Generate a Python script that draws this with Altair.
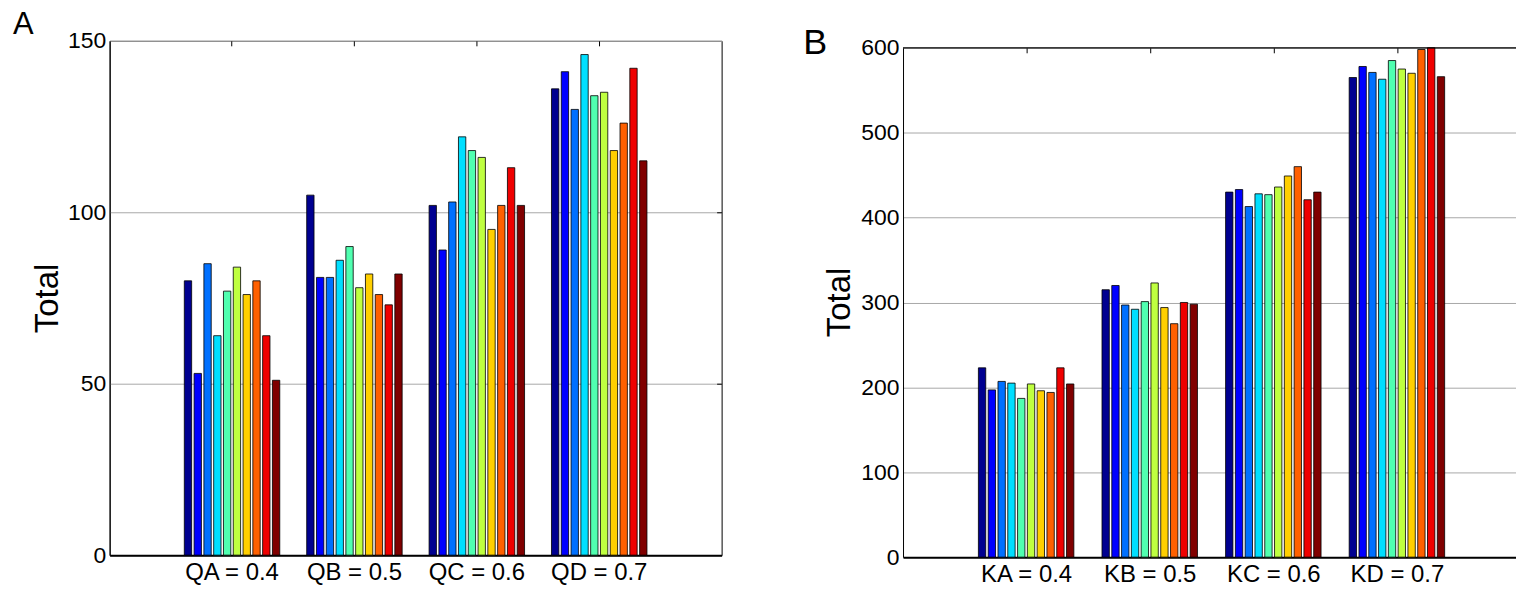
import altair as alt
import pandas as pd

# ---- data -----------------------------------------------------------------
groups_a = ["QA = 0.4", "QB = 0.5", "QC = 0.6", "QD = 0.7"]
groups_b = ["KA = 0.4", "KB = 0.5", "KC = 0.6", "KD = 0.7"]
series = ["s1", "s2", "s3", "s4", "s5", "s6", "s7", "s8", "s9", "s10"]
jet_colors = ["#000090", "#0000ff", "#0070ff", "#00dfff", "#50ffb0",
              "#bfff40", "#ffcf00", "#ff6000", "#ef0000", "#800000"]

qa = [80, 53, 85, 64, 77, 84, 76, 80, 64, 51]
qb = [105, 81, 81, 86, 90, 78, 82, 76, 73, 82]
qc = [102, 89, 103, 122, 118, 116, 95, 102, 113, 102]
qd = [136, 141, 130, 146, 134, 135, 118, 126, 142, 115]

ka = [223, 197, 207, 205, 187, 204, 196, 194, 223, 204]
kb = [315, 320, 297, 292, 301, 323, 294, 275, 300, 298]
kc = [430, 433, 413, 428, 427, 436, 449, 460, 421, 430]
kd = [565, 578, 571, 563, 585, 575, 570, 598, 600, 566]

y_ticks_a = [0, 50, 100, 150]
y_ticks_b = [0, 100, 200, 300, 400, 500, 600]


def long_table(groups, rows):
    recs = []
    for g, vals in zip(groups, rows):
        for s, v in zip(series, vals):
            recs.append({"group": g, "series": s, "total": v})
    return pd.DataFrame(recs)


df_a = long_table(groups_a, [qa, qb, qc, qd])
df_b = long_table(groups_b, [ka, kb, kc, kd])

NARROW = "Liberation Sans Narrow, Arial Narrow, Liberation Sans, sans-serif"
SANS = "Liberation Sans, Arial, sans-serif"
GRID = "#a8a8a8"
TICK_LABEL_SIZE = 23
CAT_LABEL_SIZE = 24

color = alt.Color("series:N", scale=alt.Scale(domain=series, range=jet_colors), legend=None)
# each group occupies 0.8 of a category step, split into 10 slots
x_offset = alt.XOffset("series:N", sort=series,
                       scale=alt.Scale(domain=series, paddingInner=0.25, paddingOuter=0.125))


def y_axis(values, title_x, title_y):
    return alt.Axis(values=values, grid=True, gridColor=GRID, ticks=False,
                    domainColor="black", domainWidth=1,
                    labelFont=NARROW, labelFontSize=TICK_LABEL_SIZE, labelColor="black",
                    labelPadding=4,
                    title="Total", titleFont=SANS, titleFontSize=33,
                    titleFontWeight="normal", titleColor="black",
                    titleAngle=270, titleAlign="center", titleBaseline="alphabetic",
                    titleX=title_x, titleY=title_y)


def x_axis():
    return alt.Axis(title=None, orient="bottom", ticks=False, grid=False,
                    domainColor="black", domainWidth=2, labelAngle=0,
                    labelFont=NARROW, labelFontSize=CAT_LABEL_SIZE, labelColor="black",
                    labelPadding=5)


def top_ticks(groups, offset):
    # short inward tick marks along the top edge at the group centres
    return alt.Chart(pd.DataFrame({"group": groups})).mark_rule(strokeOpacity=0).encode(
        x=alt.X("group:N", sort=groups,
                axis=alt.Axis(orient="top", offset=offset, tickSize=5, ticks=True,
                              tickColor="black", labels=False, domain=False, grid=False,
                              title=None)))


# ---- panel A ----------------------------------------------------------------
W_A, H_A = 614, 516

bars_a = alt.Chart(df_a).mark_bar(stroke="black", strokeWidth=0.8).encode(
    x=alt.X("group:N", sort=groups_a,
            scale=alt.Scale(domain=groups_a, paddingInner=0.2, paddingOuter=0.6),
            axis=x_axis()),
    xOffset=x_offset,
    y=alt.Y("total:Q", scale=alt.Scale(domain=[0, 150], nice=False),
            axis=y_axis(y_ticks_a, -52, 258)),
    color=color)

# inward tick marks along the right edge
right_ticks_a = alt.Chart(pd.DataFrame({"total": y_ticks_a})).mark_rule(strokeOpacity=0).encode(
    y=alt.Y("total:Q",
            axis=alt.Axis(orient="right", offset=-5, values=[50, 100], tickSize=5, ticks=True,
                          tickColor="black", labels=False, domain=False, grid=False, title=None)))

letter_a = alt.Chart(pd.DataFrame({"label": ["A"]})).mark_text(
    font=NARROW, fontSize=31, align="left", baseline="alphabetic", color="black").encode(
    x=alt.value(-97), y=alt.value(-7), text="label:N")

panel_a = alt.layer(bars_a, top_ticks(groups_a, -5), right_ticks_a, letter_a).resolve_axis(
    x="independent", y="independent").properties(width=W_A, height=H_A)

# ---- panel B ----------------------------------------------------------------
# this panel runs past the right edge of the figure and is cropped there
W_B, H_B = 620, 518
TOP_B = 7

bars_b = alt.Chart(df_b).mark_bar(stroke="black", strokeWidth=0.8).encode(
    x=alt.X("group:N", sort=groups_b,
            scale=alt.Scale(domain=groups_b, paddingInner=0.2, paddingOuter=0.6),
            axis=x_axis()),
    xOffset=x_offset,
    y=alt.Y("total:Q", scale=alt.Scale(domain=[0, 600], nice=False, range=[H_B, TOP_B]),
            axis=y_axis(y_ticks_b, -54, 262)),
    color=color)

top_edge_b = alt.Chart(pd.DataFrame({"edge": [600]})).mark_rule(
    color="black", strokeWidth=1.3).encode(y=alt.Y("edge:Q"))

letter_b = alt.Chart(pd.DataFrame({"label": ["B"]})).mark_text(
    font=SANS, fontSize=36, align="left", baseline="alphabetic", color="black").encode(
    x=alt.value(-100), y=alt.value(13), text="label:N")

panel_b = alt.layer(bars_b, top_edge_b, top_ticks(groups_b, -(TOP_B + 5)), letter_b).resolve_axis(
    x="independent").properties(width=W_B, height=H_B,
                                view=alt.ViewBackground(stroke="transparent"))

chart = alt.hconcat(panel_a, panel_b, spacing=80).properties(
    padding={"left": 12, "top": 7, "right": -7, "bottom": 0},
    background="white",
).configure_view(stroke="black", strokeWidth=1)

chart.save("out.html", embed_options={"renderer": "svg", "actions": False})
